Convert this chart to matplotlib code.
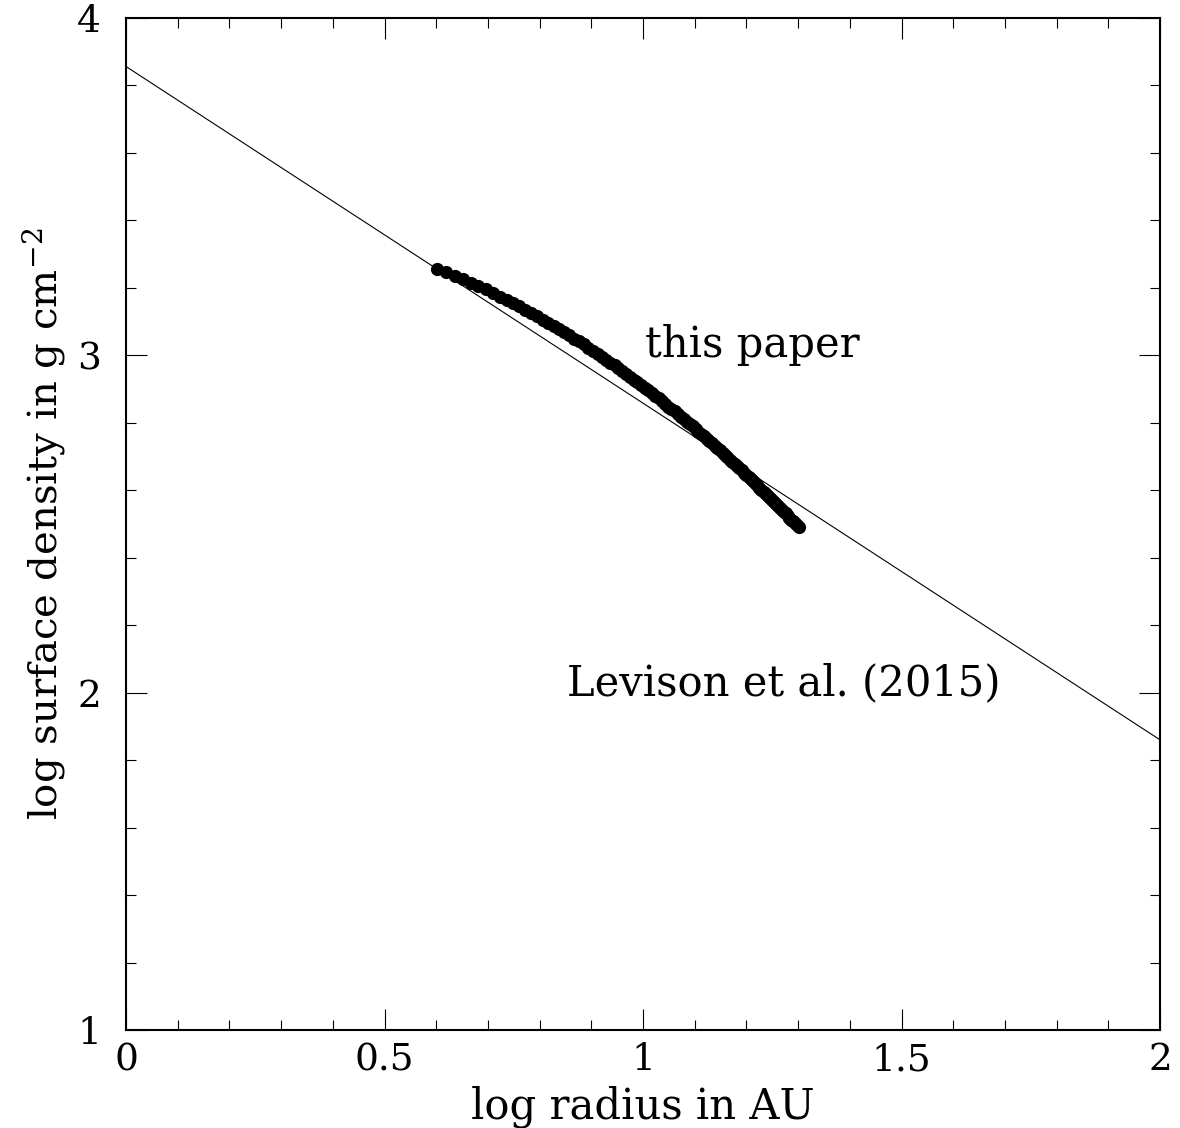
import matplotlib
matplotlib.use("Agg")
import matplotlib.pyplot as plt
from matplotlib.ticker import MultipleLocator

plt.rcParams['font.family'] = ['DejaVu Serif']
plt.rcParams['mathtext.fontset'] = 'dejavuserif'

# surface density profile (log r, log sigma)
log_r = [0.602, 0.619, 0.636, 0.651, 0.667, 0.681, 0.696, 0.709, 0.723, 0.736,
         0.748, 0.760, 0.772, 0.784, 0.795, 0.806, 0.817, 0.827, 0.838, 0.848,
         0.857, 0.867, 0.876, 0.885, 0.894, 0.903, 0.912, 0.920, 0.928, 0.937,
         0.945, 0.952, 0.960, 0.968, 0.975, 0.982, 0.989, 0.997, 1.004, 1.010,
         1.017, 1.024, 1.030, 1.037, 1.043, 1.049, 1.055, 1.061, 1.067, 1.073,
         1.079, 1.085, 1.091, 1.096, 1.102, 1.107, 1.113, 1.118, 1.123, 1.128,
         1.134, 1.139, 1.144, 1.149, 1.154, 1.158, 1.163, 1.168, 1.173, 1.177,
         1.182, 1.186, 1.191, 1.195, 1.200, 1.204, 1.208, 1.213, 1.217, 1.221,
         1.225, 1.229, 1.234, 1.238, 1.242, 1.246, 1.249, 1.253, 1.257, 1.261,
         1.265, 1.269, 1.272, 1.276, 1.280, 1.283, 1.287, 1.291, 1.294, 1.298,
         1.301]
log_sigma = [3.256, 3.246, 3.235, 3.225, 3.215, 3.205, 3.195, 3.185, 3.174, 3.164,
             3.155, 3.145, 3.135, 3.125, 3.116, 3.106, 3.096, 3.087, 3.077, 3.068,
             3.059, 3.049, 3.041, 3.032, 3.023, 3.013, 3.004, 2.996, 2.987, 2.978,
             2.970, 2.962, 2.953, 2.944, 2.936, 2.928, 2.920, 2.911, 2.903, 2.896,
             2.887, 2.879, 2.872, 2.863, 2.856, 2.848, 2.841, 2.834, 2.826, 2.818,
             2.811, 2.803, 2.795, 2.789, 2.781, 2.774, 2.766, 2.760, 2.753, 2.746,
             2.739, 2.732, 2.725, 2.718, 2.711, 2.705, 2.698, 2.691, 2.685, 2.678,
             2.672, 2.665, 2.659, 2.652, 2.646, 2.639, 2.633, 2.627, 2.620, 2.614,
             2.608, 2.602, 2.596, 2.590, 2.584, 2.578, 2.572, 2.566, 2.560, 2.554,
             2.548, 2.542, 2.536, 2.531, 2.525, 2.519, 2.513, 2.508, 2.502, 2.497,
             2.491]

# Levison et al. (2015) power law
lev_r = [0.0, 2.0]
lev_sigma = [3.856, 1.860]

fig = plt.figure(figsize=(11.8, 11.28), dpi=100)
ax = fig.add_axes([0.1068, 0.0869, 0.8763, 0.8972])

ax.plot(lev_r, lev_sigma, color='black', lw=0.8)
ax.plot(log_r, log_sigma, 'o', color='black', ms=9.5, mew=0)

ax.text(1.004, 2.995, 'this paper', fontsize=30, va='baseline', ha='left')
ax.text(0.853, 1.993, 'Levison et al. (2015)', fontsize=30, va='baseline', ha='left')

ax.set_xlim(0, 2)
ax.set_ylim(1, 4)
ax.xaxis.set_minor_locator(MultipleLocator(0.1))
ax.yaxis.set_minor_locator(MultipleLocator(0.2))
ax.set_xticks([0, 0.5, 1, 1.5, 2])
ax.set_xticklabels(['0', '0.5', '1', '1.5', '2'])
ax.set_yticks([1, 2, 3, 4])
ax.set_yticklabels(['1', '2', '3', '4'])

ax.tick_params(which='both', direction='in', top=True, right=True, width=0.8, colors='black')
ax.tick_params(which='major', length=15, labelsize=27)
ax.tick_params(which='minor', length=7.5)
ax.tick_params(axis='x', which='major', pad=9)
ax.tick_params(axis='y', which='major', pad=18)
for s in ax.spines.values():
    s.set_linewidth(1.5)

ax.set_xlabel('log radius in AU', fontsize=30, labelpad=5)
ax.set_ylabel(r'log surface density in g cm$^{-2}$', fontsize=29, labelpad=7)

fig.savefig('out.png', dpi=100)
